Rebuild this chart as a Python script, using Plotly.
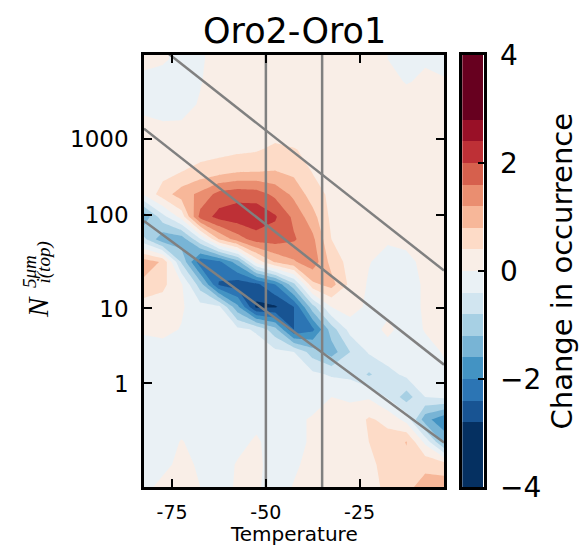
import plotly.graph_objects as go

# ---------------- data ----------------
temperature = [-82.5, -77.5, -72.5, -67.5, -62.5, -57.5, -52.5, -47.5, -42.5,
               -37.5, -32.5, -27.5, -22.5, -17.5, -12.5, -7.5, -2.5]
# vertical coordinate of the occurrence grid (bin units, ticks labelled as N)
ybin = [0.0, 0.3, 0.6, 0.9, 1.2, 1.5, 1.8, 2.1, 2.4, 2.7, 3.0,
        3.3, 3.6, 3.9, 4.2, 4.5, 4.8, 5.1, 5.4, 5.7, 6.0]

# change in occurrence (rows = ybin from bottom to top, cols = temperature)
change = [
    [-0.10, 0.10, 0.15, 0.00, -0.15, 0.05, 0.05, -0.15, 0.02, 0.15, 0.20, 0.30, 0.25, 0.50, 0.70, 0.95, 1.00],
    [-0.15, -0.10, 0.10, -0.05, -0.15, 0.03, 0.08, -0.15, -0.05, 0.10, 0.15, 0.25, 0.30, 0.55, 0.70, 0.70, 0.60],
    [-0.15, -0.15, 0.02, -0.12, -0.15, -0.10, 0.05, -0.15, -0.10, 0.05, 0.15, 0.25, 0.40, 0.55, 0.82, -0.10, -1.30],
    [-0.15, -0.15, -0.15, -0.15, -0.15, -0.15, -0.10, -0.15, -0.10, 0.05, 0.10, 0.15, 0.45, 0.30, -0.15, -1.45, -1.90],
    [-0.15, -0.15, -0.15, -0.15, -0.15, -0.15, -0.15, -0.15, -0.15, -0.20, 0.00, -0.05, -0.05, -0.45, -1.00, -0.40, -0.30],
    [-0.15, -0.15, -0.15, -0.15, -0.15, -0.15, -0.15, -0.15, -0.20, -0.30, -0.45, -0.50, -0.85, -0.55, -0.30, -0.15, -0.05],
    [-0.15, -0.15, -0.15, -0.15, -0.15, -0.20, -0.20, -0.30, -0.40, -1.00, -1.40, -0.80, -0.35, -0.15, -0.20, -0.10, 0.02],
    [0.05, 0.10, -0.02, -0.15, -0.20, -0.30, -0.45, -1.05, -2.40, -2.10, -1.00, -0.25, -0.15, 0.08, -0.15, 0.02, 0.05],
    [0.20, 0.20, 0.05, -0.25, -0.30, -1.50, -2.90, -2.85, -2.40, -0.95, 0.00, 0.20, -0.10, -0.10, -0.15, 0.05, 0.10],
    [0.70, 0.50, 0.05, -1.00, -2.45, -2.65, -2.50, -2.00, -0.90, 0.70, 0.95, 0.30, -0.05, -0.15, -0.15, 0.05, 0.10],
    [1.00, 0.75, -0.85, -2.28, -2.10, -1.40, 0.15, 0.85, 1.15, 1.45, 0.65, 0.25, 0.02, -0.15, -0.10, 0.10, 0.15],
    [-0.70, -1.50, -1.45, -0.45, 0.80, 1.40, 1.80, 1.80, 1.65, 1.30, 0.40, 0.15, 0.10, 0.05, 0.10, 0.15, 0.15],
    [-1.50, -0.55, 0.15, 1.75, 2.15, 2.25, 2.30, 2.05, 1.50, 0.95, 0.30, 0.15, 0.15, 0.15, 0.15, 0.15, 0.15],
    [0.05, 0.60, 1.00, 1.30, 1.75, 1.85, 1.80, 1.50, 1.10, 0.60, 0.30, 0.15, 0.15, 0.15, 0.15, 0.15, 0.15],
    [0.15, 0.25, 0.40, 0.55, 0.65, 0.78, 0.80, 0.82, 0.70, 0.38, 0.20, 0.15, 0.15, 0.15, 0.15, 0.15, 0.15],
    [0.15, 0.15, 0.15, 0.20, 0.25, 0.30, 0.35, 0.50, 0.42, 0.30, 0.20, 0.15, 0.15, 0.15, 0.15, 0.15, 0.15],
    [0.10, 0.05, 0.05, 0.12, 0.15, 0.15, 0.15, 0.15, 0.15, 0.15, 0.15, 0.15, 0.15, 0.15, 0.15, 0.15, 0.15],
    [-0.10, -0.15, -0.12, 0.03, 0.15, 0.15, 0.15, 0.15, 0.15, 0.15, 0.15, 0.15, 0.15, 0.15, 0.15, 0.15, 0.15],
    [-0.10, -0.15, -0.15, -0.02, 0.15, 0.15, 0.15, 0.15, 0.15, 0.15, 0.15, 0.15, 0.15, 0.10, -0.02, 0.05, 0.03],
    [0.10, 0.05, -0.10, -0.05, 0.15, 0.15, 0.15, 0.15, 0.15, 0.15, 0.15, 0.15, 0.15, 0.00, -0.10, -0.03, -0.10],
    [0.10, 0.05, -0.10, -0.05, 0.15, 0.15, 0.15, 0.15, 0.15, 0.15, 0.15, 0.15, 0.15, 0.00, -0.10, -0.03, -0.10],
]

levels = [-4.0, -2.8, -2.4, -2.0, -1.6, -1.2, -0.8, -0.4, 0.0,
          0.4, 0.8, 1.2, 1.6, 2.0, 2.4, 2.8, 4.0]

ytick_pos = [1.38, 2.379, 3.624, 4.632]
ytick_text = ["1", "10", "100", "1000"]
xtick_vals = [-75, -50, -25]
xtick_text = ["-75", "-50", "-25"]
cbar_tick_vals = [-4, -2, 0, 2, 4]
cbar_tick_text = ["\u22124", "\u22122", "0", "2", "4"]

# reference lines
vline_T = [-50, -35]
diag_T = [-82.5, -2.5]
diag_y = [[6.032, 2.884], [4.776, 1.630], [3.545, 0.593]]

# ---------------- colours (RdBu_r) ----------------
anchors = ['#053061', '#2166ac', '#4393c3', '#92c5de', '#d1e5f0', '#f7f7f7',
           '#fddbc7', '#f4a582', '#d6604d', '#b2182b', '#67001f']


def hex2rgb(h):
    return tuple(int(h[i:i + 2], 16) for i in (1, 3, 5))


def rdbu_r(s):
    n = len(anchors) - 1
    p = s * n
    i = min(int(p), n - 1)
    t = p - i
    a, b = hex2rgb(anchors[i]), hex2rgb(anchors[i + 1])
    c = [round(a[k] + (b[k] - a[k]) * t) for k in range(3)]
    return 'rgb(%d,%d,%d)' % tuple(c)


nb = len(levels) - 1
band_colors = [rdbu_r(k / (nb - 1)) for k in range(nb)]
cscale = []
for k, c in enumerate(band_colors):
    lo = 0.0 if k == 0 else (k - 0.5) / (nb - 1)
    hi = 1.0 if k == nb - 1 else (k + 0.5) / (nb - 1)
    cscale.append([lo, c])
    cscale.append([hi, c])

# ---------------- figure ----------------
W, H = 579, 545
def px(x):
    return x / W
def py(y):
    return 1 - y / H

fig = go.Figure()
fig.add_trace(go.Contour(
    x=temperature, y=ybin, z=change,
    autocontour=False,
    contours=dict(start=levels[1], end=levels[-2], size=0.4,
                  coloring='fill', showlines=False),
    colorscale=cscale, showscale=False,
    line=dict(width=0, smoothing=0),
    hoverinfo='skip',
))

gray = 'rgb(128,128,128)'
for T in vline_T:
    fig.add_trace(go.Scatter(x=[T, T], y=[ybin[0], ybin[-1]], mode='lines',
                             line=dict(color=gray, width=2.5), showlegend=False,
                             hoverinfo='skip'))
for yy in diag_y:
    fig.add_trace(go.Scatter(x=diag_T, y=yy, mode='lines',
                             line=dict(color=gray, width=2.5), showlegend=False,
                             hoverinfo='skip'))

# colour bar drawn as stacked bars
fig.add_trace(go.Bar(
    x=[0] * nb, y=[levels[k + 1] - levels[k] for k in range(nb)],
    base=levels[:-1], marker=dict(color=band_colors, line=dict(width=0)),
    width=1, xaxis='x2', yaxis='y2', showlegend=False, hoverinfo='skip'))

font_main = "DejaVu Sans"
ydom = [py(487), py(55)]
fig.update_layout(
    width=W, height=H,
    margin=dict(l=0, r=0, t=0, b=0, autoexpand=False),
    paper_bgcolor='white', plot_bgcolor='white',
    showlegend=False,
    font=dict(family=font_main, color='black'),
    xaxis=dict(domain=[px(144), px(444)], anchor='y', automargin=False,
               range=[temperature[0], temperature[-1]],
               tickvals=xtick_vals, ticktext=xtick_text,
               ticks='inside', ticklen=8, tickwidth=1.5, tickcolor='black',
               mirror='ticks', showline=True, linecolor='black', linewidth=2.5,
               showgrid=False, zeroline=False,
               tickfont=dict(size=19, family=font_main),
               ticklabelstandoff=6),
    yaxis=dict(domain=ydom, anchor='x', automargin=False,
               range=[0, 5.757],
               tickvals=ytick_pos, ticktext=ytick_text,
               ticks='inside', ticklen=8, tickwidth=1.5, tickcolor='black',
               mirror='ticks', showline=True, linecolor='black', linewidth=2.5,
               showgrid=False, zeroline=False,
               tickfont=dict(size=23, family=font_main),
               ticklabelstandoff=8),
    xaxis2=dict(domain=[px(462.3), px(483.7)], anchor='y2', automargin=False,
                range=[-0.5, 0.5], showticklabels=False, ticks='',
                showline=True, mirror=True, linecolor='black', linewidth=2.5,
                showgrid=False, zeroline=False, fixedrange=True),
    yaxis2=dict(domain=ydom, anchor='x2', side='right', automargin=False,
                range=[levels[0], levels[-1]],
                tickvals=cbar_tick_vals, ticktext=cbar_tick_text,
                ticks='inside', ticklen=6, tickwidth=1.5, tickcolor='black',
                showline=True, mirror=True, linecolor='black', linewidth=2.5,
                showgrid=False, zeroline=False,
                tickfont=dict(size=28, family=font_main),
                ticklabelstandoff=8),
    bargap=0,
)

serif = "Liberation Serif"
annots = [
    dict(text="Oro2-Oro1", x=px(294), y=py(31), font=dict(size=35, family=font_main)),
    dict(text="Temperature", x=px(294), y=py(534), font=dict(size=20, family=font_main)),
    dict(text="Change in occurrence", x=px(561), y=py(271.5), textangle=-90,
         font=dict(size=29, family=font_main)),
    dict(text="<i>N</i>", x=px(37.5), y=py(307.5), textangle=-90,
         font=dict(size=29, family=serif)),
    dict(text="<i>5μm</i>", x=px(29), y=py(272), textangle=-90,
         font=dict(size=19, family=serif)),
    dict(text="<i>i(top)</i>", x=px(43.5), y=py(263), textangle=-90,
         font=dict(size=19, family=serif)),
]
for a in annots:
    a.update(xref='paper', yref='paper', showarrow=False,
             xanchor='center', yanchor='middle')
    fig.add_annotation(**a)

fig.write_html("out.html", config={'displayModeBar': False},
               post_script="document.body.style.margin='0px';document.body.style.overflow='hidden';")
